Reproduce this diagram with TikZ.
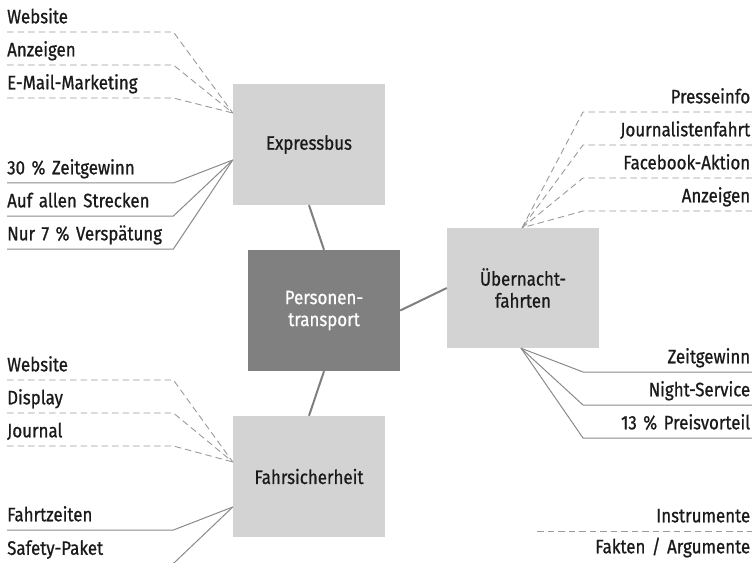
\documentclass[tikz,border=0pt]{standalone}
\usepackage{fontspec}
\setmainfont[FakeStretch=0.87, FakeBold=0.8, WordSpace=0.8]{Fira Sans}
\usepackage{xcolor}
\usepackage{tikz}
\usetikzlibrary{calc}

\definecolor{boxgray}{HTML}{D3D3D3}
\definecolor{centergray}{HTML}{808080}
\definecolor{conngray}{HTML}{7F7F7F}
\definecolor{dashgray}{HTML}{9A9A9A}
\definecolor{factgray}{HTML}{8A8A8A}
\definecolor{textgray}{HTML}{1A1A1A}

\begin{document}
\begin{tikzpicture}[x=1bp,y=-1bp,
  font=\fontsize{19.5}{22}\selectfont, text=textgray,
  topic/.style={fill=boxgray, minimum width=152bp, minimum height=121bp,
    inner sep=0pt, align=center},
  lbl/.style={anchor=south west, text width=166bp, align=left,
    inner xsep=0pt, inner ysep=8.5bp, text depth=0pt},
  rbl/.style={anchor=south west, text width=165bp, align=right,
    inner xsep=2bp, inner ysep=8.5bp, text depth=0pt},
  conn/.style={draw=conngray, line width=2bp},
  inst/.style={draw=dashgray, line width=0.9bp, dash pattern=on 6.5bp off 4bp},
  fact/.style={draw=factgray, line width=1bp}]
  \useasboundingbox (0,0) rectangle (752,563);

  % themes
  \node[topic] (eb) at (309,144.5) {Expressbus};
  \node[topic, fill=centergray, text=white] (pt) at (324,310.5) {Personen-\\transport};
  \node[topic, minimum height=120bp] (ub) at (523,288) {Übernacht-\\fahrten};
  \node[topic] (fs) at (309,476.5) {Fahrsicherheit};

  \draw[conn] (eb.south) -- (pt.north);
  \draw[conn] (pt.east) -- (ub.west);
  \draw[conn] (pt.south) -- (fs.north);

  \coordinate (eb-i) at ($(eb.west)+(0,-31.5)$);
  \coordinate (eb-f) at ($(eb.west)+(0,15.5)$);
  \coordinate (ub-i) at ($(ub.north)+(-1,0)$);
  \coordinate (ub-f) at ($(ub.south)+(-2,0)$);
  \coordinate (fs-i) at ($(fs.west)+(0,-14.5)$);
  \coordinate (fs-f) at ($(fs.west)+(0,30.5)$);

  % Expressbus
  \node[lbl] (eb1) at (7,32) {Website};
  \node[lbl] (eb2) at (7,65) {Anzeigen};
  \node[lbl] (eb3) at (7,98) {E-Mail-Marketing};
  \draw[inst] (eb1.south west) -- (eb1.south east) -- (eb-i);
  \draw[inst] (eb2.south west) -- (eb2.south east) -- (eb-i);
  \draw[inst] (eb3.south west) -- (eb3.south east) -- (eb-i);
  \node[lbl] (eb4) at (7,183) {30 \% Zeitgewinn};
  \node[lbl] (eb5) at (7,216) {Auf allen Strecken};
  \node[lbl] (eb6) at (7,249) {Nur 7 \% Verspätung};
  \draw[fact] (eb4.south west) -- (eb4.south east) -- (eb-f);
  \draw[fact] (eb5.south west) -- (eb5.south east) -- (eb-f);
  \draw[fact] (eb6.south west) -- (eb6.south east) -- (eb-f);

  % Uebernachtfahrten
  \node[rbl] (ub1) at (583,112) {Presseinfo};
  \node[rbl] (ub2) at (583,145) {Journalistenfahrt};
  \node[rbl] (ub3) at (583,178) {Facebook-Aktion};
  \node[rbl] (ub4) at (583,211) {Anzeigen};
  \draw[inst] (ub1.south east) -- (ub1.south west) -- (ub-i);
  \draw[inst] (ub2.south east) -- (ub2.south west) -- (ub-i);
  \draw[inst] (ub3.south east) -- (ub3.south west) -- (ub-i);
  \draw[inst] (ub4.south east) -- (ub4.south west) -- (ub-i);
  \node[rbl] (ub5) at (583,372) {Zeitgewinn};
  \node[rbl] (ub6) at (583,405) {Night-Service};
  \node[rbl] (ub7) at (583,438) {13 \% Preisvorteil};
  \draw[fact] (ub5.south east) -- (ub5.south west) -- (ub-f);
  \draw[fact] (ub6.south east) -- (ub6.south west) -- (ub-f);
  \draw[fact] (ub7.south east) -- (ub7.south west) -- (ub-f);

  % Fahrsicherheit
  \node[lbl] (fs1) at (7,380) {Website};
  \node[lbl] (fs2) at (7,413) {Display};
  \node[lbl] (fs3) at (7,446) {Journal};
  \draw[inst] (fs1.south west) -- (fs1.south east) -- (fs-i);
  \draw[inst] (fs2.south west) -- (fs2.south east) -- (fs-i);
  \draw[inst] (fs3.south west) -- (fs3.south east) -- (fs-i);
  \node[lbl] (fs4) at (7,530) {Fahrtzeiten};
  \node[lbl] (fs5) at (7,563.5) {Safety-Paket};
  \draw[fact] (fs4.south west) -- (fs4.south east) -- (fs-f);
  \draw[fact] (fs5.south west) -- (fs5.south east) -- (fs-f);

  % legend
  \node[rbl, text width=211bp] (leg1) at (537,531) {Instrumente};
  \node[rbl, text width=211bp, inner ysep=9bp] (leg2) at (537,562.5) {Fakten / Argumente};
  \draw[inst] (leg1.south west) -- (leg1.south east);
\end{tikzpicture}
\end{document}
